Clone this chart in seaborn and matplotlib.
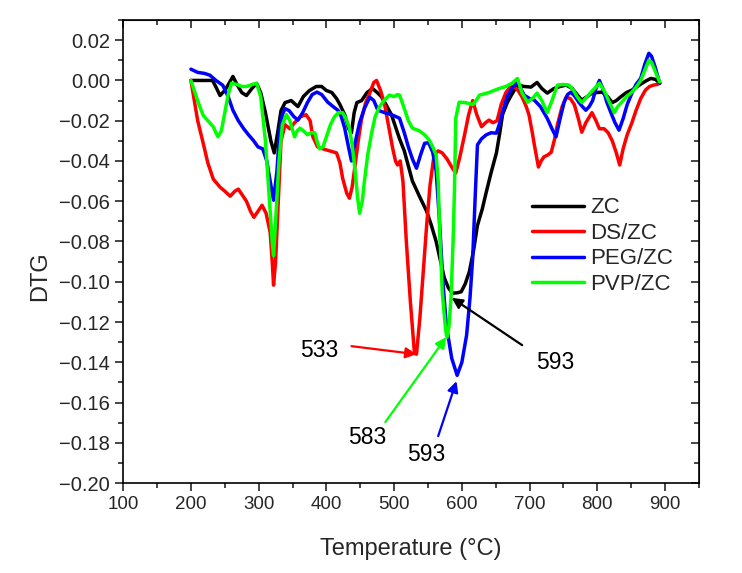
import numpy as np
import pandas as pd
import seaborn as sns
import matplotlib
matplotlib.use("Agg")
import matplotlib.pyplot as plt
from matplotlib.ticker import MultipleLocator, FuncFormatter

# ---- data ----
zc_t = [200, 215, 232, 238, 243, 250, 257, 262, 268, 275, 282, 290, 297, 303, 310, 318, 323, 328, 333, 339,
        348, 358, 366, 375, 385, 393, 400, 408, 415, 420, 427, 433, 437, 441, 445, 452, 460, 468, 475, 481,
        488, 496, 502, 508, 515, 527, 538, 548, 555, 562, 568, 574, 580, 586, 593, 599, 605, 611, 617, 623,
        630, 636, 643, 651, 656, 660, 667, 673, 682, 692, 702, 711, 718, 726, 736, 745, 754, 763, 770, 777,
        785, 792, 800, 807, 815, 822, 828, 835, 843, 851, 859, 866, 873, 879, 886, 892]
zc_dtg = [0.000, 0.000, 0.000, -0.004, -0.0075, -0.005, -0.001, 0.002, -0.002, -0.006, -0.0075, -0.004, -0.0015,
          -0.006, -0.016, -0.030, -0.036, -0.026, -0.015, -0.011, -0.010, -0.013, -0.008, -0.005, -0.003, -0.003,
          -0.005, -0.006, -0.009, -0.012, -0.017, -0.024, -0.026, -0.016, -0.011, -0.010, -0.006, -0.004, -0.006,
          -0.008, -0.012, -0.017, -0.023, -0.029, -0.035, -0.050, -0.058, -0.065, -0.072, -0.080, -0.089, -0.098,
          -0.103, -0.1057, -0.1055, -0.105, -0.101, -0.095, -0.085, -0.072, -0.064, -0.0555, -0.046, -0.036,
          -0.026, -0.017, -0.011, -0.0073, -0.0023, -0.003, -0.0033, -0.001, -0.004, -0.0063, -0.004, -0.003,
          -0.0023, -0.004, -0.007, -0.0098, -0.008, -0.0063, -0.006, -0.0058, -0.008, -0.011, -0.010, -0.008,
          -0.006, -0.0048, -0.003, -0.0014, 0.000, 0.001, 0.0005, -0.0014]

ds_t = [200, 205, 210, 218, 225, 233, 243, 250, 258, 265, 270, 276, 282, 288, 293, 299, 305, 311, 317, 320,
        322, 325, 329, 333, 339, 346, 353, 362, 370, 376, 380, 387, 395, 405, 415, 420, 424, 430, 434, 438,
        442, 447, 452, 458, 464, 470, 474, 480, 486, 492, 498, 502, 505, 509, 513, 518, 524, 530, 533, 538,
        543, 548, 553, 559, 565, 571, 578, 585, 591, 597, 604, 610, 616, 622, 629, 635, 640, 646, 652, 658,
        665, 672, 677, 683, 689, 695, 699, 704, 707, 713, 717, 721, 727, 732, 737, 741, 748, 754, 760, 766,
        772, 777, 783, 792, 798, 803, 810, 816, 822, 828, 833, 838, 844, 851, 857, 864, 871, 877, 883, 888, 892]
ds_dtg = [0.000, -0.010, -0.020, -0.031, -0.041, -0.049, -0.053, -0.055, -0.0575, -0.055, -0.054, -0.057, -0.060,
          -0.065, -0.068, -0.065, -0.062, -0.066, -0.0755, -0.090, -0.1017, -0.090, -0.060, -0.030, -0.022,
          -0.024, -0.021, -0.018, -0.017, -0.020, -0.028, -0.033, -0.034, -0.035, -0.036, -0.041, -0.0486,
          -0.056, -0.0585, -0.053, -0.043, -0.030, -0.019, -0.011, -0.0063, -0.001, 0.000, -0.005, -0.012,
          -0.023, -0.034, -0.040, -0.042, -0.040, -0.050, -0.080, -0.110, -0.1355, -0.136, -0.118, -0.095,
          -0.072, -0.052, -0.037, -0.035, -0.036, -0.039, -0.043, -0.046, -0.038, -0.027, -0.017, -0.010,
          -0.017, -0.023, -0.021, -0.0197, -0.021, -0.020, -0.012, -0.006, -0.003, -0.003, -0.005, -0.0083,
          -0.013, -0.017, -0.026, -0.032, -0.043, -0.040, -0.038, -0.037, -0.0356, -0.029, -0.022, -0.013,
          -0.0083, -0.009, -0.012, -0.019, -0.0257, -0.021, -0.016, -0.020, -0.024, -0.024, -0.026, -0.030,
          -0.036, -0.042, -0.034, -0.027, -0.021, -0.015, -0.009, -0.0048, -0.003, -0.0023, -0.002, -0.0014]

peg_t = [200, 210, 220, 228, 237, 247, 255, 262, 270, 278, 285, 292, 299, 306, 312, 317, 322, 327, 331, 335,
         339, 345, 352, 358, 365, 372, 379, 386, 393, 402, 410, 417, 422, 427, 432, 437, 443, 449, 456, 464,
         470, 476, 486, 496, 503, 508, 515, 521, 527, 533, 539, 545, 551, 557, 562, 567, 572, 577, 585, 593,
         600, 607, 612, 616, 620, 623, 629, 636, 643, 651, 656, 660, 667, 674, 682, 692, 700, 707, 716, 726,
         733, 739, 745, 751, 756, 761, 767, 773, 778, 783, 788, 793, 798, 803, 808, 814, 820, 826, 832, 838,
         844, 851, 857, 864, 870, 876, 880, 885, 892]
peg_dtg = [0.0056, 0.004, 0.0035, 0.0026, 0.000, -0.0024, -0.008, -0.0148, -0.020, -0.024, -0.027, -0.0297,
           -0.033, -0.034, -0.040, -0.050, -0.0595, -0.045, -0.025, -0.017, -0.014, -0.015, -0.018, -0.0197,
           -0.016, -0.011, -0.007, -0.0058, -0.007, -0.0108, -0.013, -0.0148, -0.018, -0.0237, -0.032, -0.040,
           -0.030, -0.021, -0.014, -0.0083, -0.010, -0.0148, -0.016, -0.017, -0.018, -0.0188, -0.026, -0.033,
           -0.039, -0.0436, -0.037, -0.0312, -0.031, -0.0357, -0.045, -0.070, -0.100, -0.1216, -0.138, -0.1465,
           -0.140, -0.1265, -0.108, -0.088, -0.055, -0.032, -0.029, -0.027, -0.026, -0.0262, -0.021, -0.0158,
           -0.008, -0.0038, -0.001, -0.0073, -0.009, -0.0098, -0.013, -0.0188, -0.024, -0.028, -0.019, -0.0108,
           -0.007, -0.0058, -0.008, -0.011, -0.013, -0.0148, -0.013, -0.010, -0.004, 0.000, -0.004, -0.0108,
           -0.016, -0.021, -0.0247, -0.019, -0.012, -0.0063, -0.002, 0.001, 0.008, 0.0135, 0.012, 0.007, -0.0014]

pvp_t = [200, 205, 212, 218, 225, 233, 237, 240, 245, 250, 255, 260, 268, 275, 282, 290, 297, 303, 310, 316,
         320, 322, 325, 330, 335, 341, 346, 353, 357, 361, 366, 372, 377, 383, 386, 390, 395, 400, 406, 412,
         418, 424, 429, 434, 438, 442, 446, 449, 453, 456, 461, 467, 472, 478, 485, 493, 500, 505, 508, 512,
         515, 521, 527, 537, 545, 552, 557, 562, 565, 567, 571, 576, 578, 581, 584, 587, 589, 591, 596, 605,
         616, 621, 626, 640, 655, 665, 674, 682, 689, 697, 704, 711, 718, 726, 733, 741, 750, 758, 765, 770,
         777, 785, 793, 803, 810, 818, 825, 830, 836, 843, 851, 858, 864, 870, 876, 880, 886, 892]
pvp_dtg = [0.000, -0.005, -0.012, -0.0173, -0.020, -0.023, -0.026, -0.028, -0.025, -0.016, -0.007, -0.0014,
           -0.002, -0.003, -0.003, -0.002, -0.0014, -0.008, -0.030, -0.060, -0.080, -0.087, -0.070, -0.040,
           -0.022, -0.017, -0.020, -0.028, -0.025, -0.0237, -0.025, -0.027, -0.026, -0.026, -0.030, -0.034,
           -0.033, -0.028, -0.022, -0.018, -0.016, -0.016, -0.019, -0.0237, -0.032, -0.0436, -0.058, -0.066,
           -0.060, -0.0505, -0.037, -0.0257, -0.018, -0.0133, -0.010, -0.0073, -0.008, -0.007, -0.0073, -0.011,
           -0.014, -0.020, -0.0237, -0.025, -0.027, -0.0297, -0.033, -0.037, -0.050, -0.072, -0.105, -0.124,
           -0.1275, -0.122, -0.108, -0.080, -0.0555, -0.0188, -0.0108, -0.011, -0.012, -0.010, -0.0073, -0.006,
           -0.004, -0.003, -0.0014, 0.001, -0.0063, -0.0108, -0.009, -0.0063, -0.010, -0.016, -0.010, -0.0023,
           -0.002, -0.0023, -0.005, -0.008, -0.011, -0.008, -0.005, -0.0014, -0.005, -0.011, -0.016, -0.013,
           -0.0108, -0.008, -0.0058, -0.003, 0.000, 0.005, 0.010, 0.009, 0.004, -0.0007]

samples = ["ZC", "DS/ZC", "PEG/ZC", "PVP/ZC"]
colors = ["#000000", "#ff0000", "#0000ff", "#00ff00"]

# peak labels: text, arrow tail (x, y), arrow head (x, y), text position (x, y)
peak_labels = ["533", "583", "593", "593"]
peak_colors = ["#ff0000", "#00ff00", "#0000ff", "#000000"]
arrow_tail = [(437, -0.132), (487, -0.1697), (565, -0.1767), (689, -0.1315)]
arrow_head = [(533, -0.136), (577, -0.1275), (592, -0.1494), (585, -0.108)]
label_pos = [(390, -0.134), (461, -0.1772), (548, -0.186), (738, -0.140)]

# ---- long table for seaborn ----
frames = []
for name, t, d in zip(samples, [zc_t, ds_t, peg_t, pvp_t], [zc_dtg, ds_dtg, peg_dtg, pvp_dtg]):
    frames.append(pd.DataFrame({"T": t, "DTG": d, "sample": name}))
df = pd.concat(frames, ignore_index=True)

sns.set_style("ticks")
plt.rcParams["font.family"] = ["Liberation Sans", "DejaVu Sans"]

fig, ax = plt.subplots(figsize=(7.42, 5.73), dpi=100)
fig.subplots_adjust(left=0.166, right=0.942, bottom=0.157, top=0.965)

sns.lineplot(data=df, x="T", y="DTG", hue="sample", hue_order=samples,
             palette=dict(zip(samples, colors)), estimator=None, sort=False,
             linewidth=2.5, ax=ax)

# arrows + peak numbers
for txt, c, tail, head, pos in zip(peak_labels, peak_colors, arrow_tail, arrow_head, label_pos):
    ax.annotate("", xy=head, xytext=tail,
                arrowprops=dict(arrowstyle="-|>", color=c, lw=1.6, mutation_scale=16,
                                shrinkA=0, shrinkB=0))
    ax.text(pos[0], pos[1], txt, fontsize=16.5, ha="center", va="center", color="black")

ax.set_xlim(100, 950)
ax.set_ylim(-0.20, 0.03)
ax.xaxis.set_major_locator(MultipleLocator(100))
ax.xaxis.set_minor_locator(MultipleLocator(50))
ax.yaxis.set_major_locator(MultipleLocator(0.02))
ax.yaxis.set_minor_locator(MultipleLocator(0.01))
ax.yaxis.set_major_formatter(FuncFormatter(lambda v, p: f"{round(v, 2) + 0.0:.2f}".replace("-", "\u2212")))

ax.tick_params(which="both", direction="out", top=False, right=False, width=1.2)
ax.tick_params(axis="x", labelsize=13.5)
ax.tick_params(axis="y", labelsize=14.5)
ax.tick_params(which="major", length=6)
ax.tick_params(which="minor", length=3.5)

# mirrored ticks on top and right, pointing inward
top = ax.secondary_xaxis("top")
top.xaxis.set_major_locator(MultipleLocator(100))
top.xaxis.set_minor_locator(MultipleLocator(50))
top.tick_params(which="both", direction="in", labeltop=False, width=1.2)
top.tick_params(which="major", length=6)
top.tick_params(which="minor", length=3.5)
right = ax.secondary_yaxis("right")
right.yaxis.set_major_locator(MultipleLocator(0.02))
right.yaxis.set_minor_locator(MultipleLocator(0.01))
right.tick_params(which="both", direction="in", labelright=False, width=1.2)
right.tick_params(which="major", length=6)
right.tick_params(which="minor", length=3.5)

for s in ax.spines.values():
    s.set_linewidth(1.2)
    s.set_color("black")

ax.set_xlabel("Temperature (\u00b0C)", fontsize=17, labelpad=18)
ax.set_ylabel("DTG", fontsize=17)
ax.yaxis.set_label_coords(-0.125, 0.447)

ax.legend(loc="upper left", bbox_to_anchor=(0.676, 0.66), frameon=False, fontsize=16,
          handlelength=2.3, labelspacing=0.2, handletextpad=0.3)

plt.savefig("out.png", dpi=100)
